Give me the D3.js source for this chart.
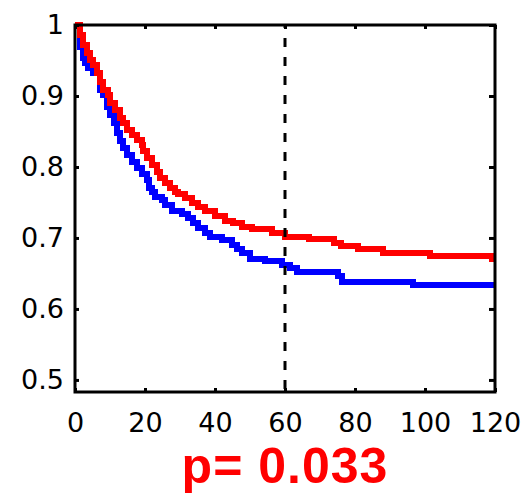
<!DOCTYPE html>
<html>
<head>
<meta charset="utf-8">
<script src="https://cdn.jsdelivr.net/npm/d3@7"></script>
<style>
  html, body { margin: 0; padding: 0; background: #fff; }
</style>
</head>
<body>
<div id="chart"></div>
<script>
// survival curves, step-after (time in months, survival fraction)
const redTimes = [0, 1.4, 2.4, 3.3, 4.3, 5.2, 6.2, 7.1, 8.1, 9.5, 10, 11.4, 12.9, 13.8, 14.8, 16.2, 17.6, 19, 19.5, 20.5,
    21.9, 23.3, 24.3, 25.7, 27.1, 28.6, 29.5, 31.4, 33.3, 35.2, 37.1, 40, 42.9, 45.2, 47.6, 50.5, 56.2, 60,
    66.9, 73.9, 76.1, 80.9, 88.1, 101.5, 119];
const redSurv = [1, 0.986, 0.972, 0.96, 0.951, 0.944, 0.932, 0.92, 0.908, 0.901, 0.89, 0.88, 0.869, 0.862, 0.852, 0.845, 0.838, 0.831, 0.822, 0.813,
    0.803, 0.793, 0.784, 0.777, 0.77, 0.765, 0.762, 0.756, 0.749, 0.744, 0.738, 0.731, 0.724, 0.721, 0.716, 0.712, 0.707, 0.702,
    0.698, 0.693, 0.688, 0.684, 0.679, 0.675, 0.670];

const blueTimes = [0, 1.4, 2.4, 2.9, 3.8, 5.2, 7.1, 8.1, 9, 10, 11, 11.9, 12.9, 13.8, 14.8, 16.2, 17.6, 19, 20.5, 21,
    21.9, 22.9, 24.8, 25.7, 27.6, 30.5, 32.4, 33.8, 35.2, 37.1, 38.6, 41.9, 44.8, 46.2, 47.6, 50, 54.3, 59,
    61.4, 63.3, 75.2, 76.4, 96.7];
const blueSurv = [1, 0.969, 0.953, 0.946, 0.939, 0.933, 0.908, 0.901, 0.885, 0.873, 0.862, 0.848, 0.836, 0.827, 0.817, 0.807, 0.798, 0.79, 0.782, 0.77,
    0.765, 0.758, 0.754, 0.746, 0.738, 0.734, 0.728, 0.721, 0.714, 0.707, 0.702, 0.697, 0.69, 0.684, 0.679, 0.67, 0.667, 0.662,
    0.657, 0.652, 0.647, 0.638, 0.634];

const xTicks = [0, 20, 40, 60, 80, 100, 120];
const yTicks = [0.5, 0.6, 0.7, 0.8, 0.9, 1];
const cutoffTime = 60;
const pLabel = "p= 0.033";

function renderSurvival(id) {
    const width = 522;
    const height = 493;
    const box = { left: 75, right: 495, top: 25, bottom: 392 };

    const svg = d3.select(`#${id}`)
        .append("svg")
        .attr("width", width)
        .attr("height", height)
        .style("background", "#fff");

    const xScale = d3.scaleLinear().domain([0, 120]).range([box.left, box.right]);
    const yScale = d3.scaleLinear().domain([0.483, 1]).range([box.bottom, box.top]);

    const toPoints = (times, surv) => {
        const pts = times.map((t, i) => [t, surv[i]]);
        pts.push([120, surv[surv.length - 1]]);
        return pts;
    };

    const line = d3.line()
        .x(d => xScale(d[0]))
        .y(d => yScale(d[1]))
        .curve(d3.curveStepAfter);

    const curves = svg.append("g");
    curves.append("path")
        .attr("d", line(toPoints(blueTimes, blueSurv)))
        .attr("fill", "none")
        .attr("stroke", "#0000ff")
        .attr("stroke-width", 6)
        .attr("shape-rendering", "crispEdges");
    curves.append("path")
        .attr("d", line(toPoints(redTimes, redSurv)))
        .attr("fill", "none")
        .attr("stroke", "#ff0000")
        .attr("stroke-width", 6)
        .attr("shape-rendering", "crispEdges");

    // dashed cut-off line
    svg.append("line")
        .attr("x1", xScale(cutoffTime))
        .attr("x2", xScale(cutoffTime))
        .attr("y1", box.top)
        .attr("y2", box.bottom)
        .attr("stroke", "#000")
        .attr("stroke-width", 3)
        .attr("stroke-dasharray", "9,10")
        .attr("stroke-dashoffset", 6);

    const styleAxis = g => {
        g.select(".domain").remove();
        g.selectAll(".tick line").attr("stroke", "#000").attr("stroke-width", 3);
        g.selectAll("text")
            .attr("fill", "#000")
            .style("font-family", "'DejaVu Sans', sans-serif")
            .style("font-size", "27px");
    };

    svg.append("g")
        .attr("transform", `translate(${box.left},0)`)
        .call(d3.axisLeft(yScale).tickValues(yTicks).tickFormat(d3.format("~g")).tickSizeInner(-4).tickSizeOuter(0).tickPadding(11))
        .call(styleAxis);

    svg.append("g")
        .attr("transform", `translate(0,${box.bottom})`)
        .call(d3.axisBottom(xScale).tickValues(xTicks).tickSizeInner(-4).tickSizeOuter(0).tickPadding(21))
        .call(styleAxis);

    svg.append("g")
        .attr("transform", `translate(0,${box.top})`)
        .call(d3.axisTop(xScale).tickValues(xTicks).tickFormat("").tickSizeInner(-4).tickSizeOuter(0))
        .call(styleAxis);

    svg.append("g")
        .attr("transform", `translate(${box.right},0)`)
        .call(d3.axisRight(yScale).tickValues(yTicks).tickFormat("").tickSizeInner(-6).tickSizeOuter(0))
        .call(styleAxis);

    // frame
    svg.append("rect")
        .attr("x", box.left)
        .attr("y", box.top)
        .attr("width", box.right - box.left)
        .attr("height", box.bottom - box.top)
        .attr("fill", "none")
        .attr("stroke", "#000")
        .attr("stroke-width", 3);

    svg.append("text")
        .attr("x", (box.left + box.right) / 2)
        .attr("y", 483)
        .attr("text-anchor", "middle")
        .attr("fill", "#ff0000")
        .style("font-family", "'Liberation Sans', Arial, sans-serif")
        .style("font-weight", "bold")
        .style("font-size", "50px")
        .style("letter-spacing", "1px")
        .text(pLabel);
}

renderSurvival("chart");
</script>
</body>
</html>
